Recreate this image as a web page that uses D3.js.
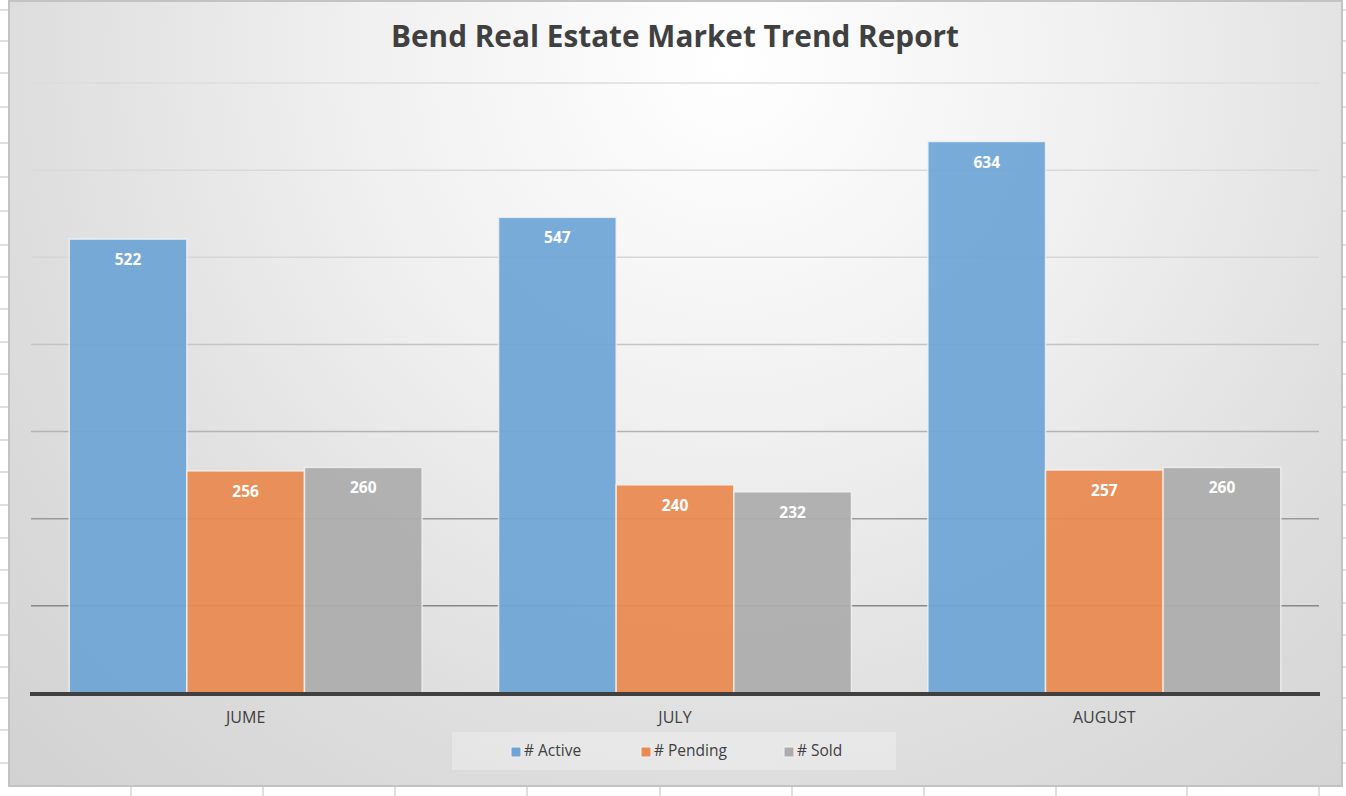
<!DOCTYPE html>
<html><head><meta charset="utf-8">
<script src="https://cdn.jsdelivr.net/npm/d3@7"></script>
<style>html,body{margin:0;padding:0;background:#fff;overflow:hidden}</style>
</head><body>
<svg id="c" width="1346" height="796"></svg>
<script>
const categories = ["JUME", "JULY", "AUGUST"];
const seriesNames = ["# Active", "# Pending", "# Sold"];
const active = [522, 547, 634];
const pending = [256, 240, 257];
const sold = [260, 232, 260];
const yTicks = [0, 100, 200, 300, 400, 500, 600, 700];
const titleText = "Bend Real Estate Market Trend Report";

const colors = ["#6fa5d6", "#ea8a50", "#acacac"];
const seriesValues = [active, pending, sold];

const W = 1346, H = 796;
const svg = d3.select("#c");
const font = "'Open Sans', 'Liberation Sans', sans-serif";

// spreadsheet background grid
const rowLines = [10, 41, 73, 107, 143, 177, 211, 245, 277, 309, 342, 374, 407, 440, 472, 505, 538, 570, 603, 635, 667, 698, 730, 763];
const colLines = [131, 263, 395, 527, 660, 792, 924, 1056, 1187, 1319];
svg.append("g").selectAll("line").data(rowLines).join("line")
  .attr("x1", 0).attr("x2", W).attr("y1", d => d).attr("y2", d => d)
  .attr("stroke", "#d4d4d4").attr("stroke-width", 1.5);
svg.append("g").selectAll("line").data(colLines).join("line")
  .attr("y1", 0).attr("y2", H).attr("x1", d => d).attr("x2", d => d)
  .attr("stroke", "#d4d4d4").attr("stroke-width", 1.5);

// gradient
const defs = svg.append("defs");
const rg = defs.append("radialGradient").attr("id", "bg")
  .attr("gradientUnits", "userSpaceOnUse")
  .attr("cx", 730).attr("cy", 60).attr("r", 1010);
[[0, "#ffffff"], [0.37, "#f0f0f0"], [0.7, "#dedede"], [1, "#d2d2d2"]].forEach(s =>
  rg.append("stop").attr("offset", s[0]).attr("stop-color", s[1]));

svg.append("rect").attr("x", 9).attr("y", 1).attr("width", 1333).attr("height", 785)
  .attr("fill", "url(#bg)").attr("stroke", "#c3c3c3").attr("stroke-width", 2);

const plotL = 31, plotR = 1319, plotT = 83, plotB = 693;
const y = d3.scaleLinear().domain([0, 700]).range([plotB, plotT]);
const x0 = d3.scaleBand().domain(categories).range([plotL, plotR]).paddingInner(0).paddingOuter(0);
const bw = x0.bandwidth() / 3.65;
const x1 = d3.scaleBand().domain(seriesNames).range([0, bw * 3]).padding(0);
const offset = (x0.bandwidth() - bw * 3) / 2;

// gridlines
const gcol = d3.scaleLinear().domain([700, 500, 400, 300, 200, 100])
  .range(["#dcdcdc", "#d6d6d6", "#c4c4c4", "#b3b3b3", "#9a9a9a", "#888888"]);
svg.append("g").selectAll("line").data(yTicks.filter(t => t > 0)).join("line")
  .attr("x1", plotL).attr("x2", plotR)
  .attr("y1", d => y(d)).attr("y2", d => y(d))
  .attr("stroke", d => gcol(d)).attr("stroke-width", 1.5);

// bars
const rows = [];
categories.forEach((c, i) => seriesNames.forEach((s, j) => rows.push({ c, s, j, v: seriesValues[j][i] })));
const gBars = svg.append("g");
gBars.selectAll("rect").data(rows).join("rect")
  .attr("x", d => x0(d.c) + offset + x1(d.s))
  .attr("y", d => y(d.v) + 1)
  .attr("width", x1.bandwidth())
  .attr("height", d => y(0) - y(d.v) - 1)
  .attr("fill", d => colors[d.j]).attr("fill-opacity", 0.93)
  .attr("stroke", "#f2f2f2").attr("stroke-opacity", 0.8).attr("stroke-width", 1.5);

gBars.selectAll("text").data(rows).join("text")
  .attr("x", d => x0(d.c) + offset + x1(d.s) + x1.bandwidth() / 2)
  .attr("y", d => y(d.v) + 27)
  .attr("text-anchor", "middle")
  .attr("font-family", font).attr("font-weight", "bold").attr("font-size", 15.5)
  .attr("fill", "#fff").text(d => d.v);

// baseline
svg.append("line").attr("x1", plotL - 1).attr("x2", plotR + 1)
  .attr("y1", y(0) + 1).attr("y2", y(0) + 1)
  .attr("stroke", "#404040").attr("stroke-width", 4);

// category labels
svg.append("g").selectAll("text").data(categories).join("text")
  .attr("x", d => x0(d) + x0.bandwidth() / 2)
  .attr("y", 723)
  .attr("text-anchor", "middle")
  .attr("font-family", font).attr("font-size", 16)
  .attr("fill", "#404040").text(d => d);

// title
const t = svg.append("text").attr("x", 675).attr("y", 47)
  .attr("text-anchor", "middle")
  .attr("font-family", font).attr("font-weight", "bold").attr("font-size", 31)
  .attr("fill", "#404040").text(titleText);
t.attr("textLength", 568).attr("lengthAdjust", "spacingAndGlyphs");

// legend
svg.append("rect").attr("x", 452).attr("y", 732).attr("width", 444).attr("height", 38)
  .attr("fill", "#ffffff").attr("fill-opacity", 0.28);
const legendX = [511, 641, 784];
const lg = svg.append("g").selectAll("g").data(seriesNames).join("g")
  .attr("transform", (d, i) => `translate(${legendX[i]},0)`);
lg.append("rect").attr("x", 0).attr("y", 747).attr("width", 10).attr("height", 10)
  .attr("fill", (d, i) => colors[i]).attr("stroke", "#f2f2f2").attr("stroke-width", 1);
lg.append("text").attr("x", 13).attr("y", 756)
  .attr("font-family", font).attr("font-size", 15.5)
  .attr("fill", "#404040").text(d => d);
</script>
</body></html>
